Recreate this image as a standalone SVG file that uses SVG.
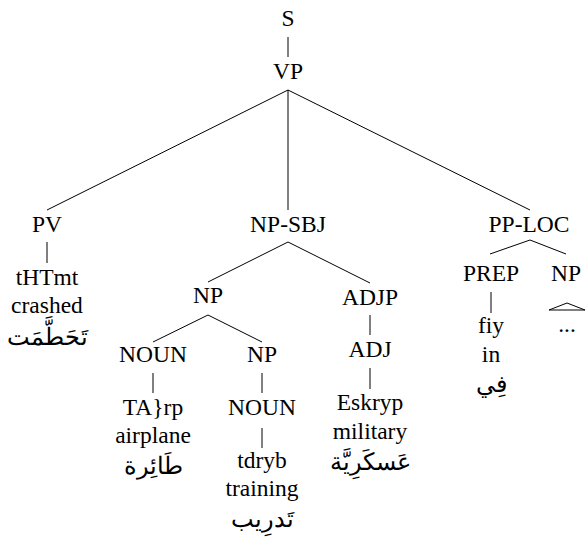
<svg xmlns="http://www.w3.org/2000/svg" width="586" height="544" viewBox="0 0 586 544">
<defs>
<style>
.t{font-size:23.5px;text-anchor:middle}
.a{font-size:24px;text-anchor:middle}
.e line,.e polyline{stroke:#000;stroke-width:1;fill:none}
</style>
</defs>
<rect width="586" height="544" fill="#fff"/>
<g id="connectors" class="e">
<line x1="288" y1="37" x2="288" y2="57"/>
<line x1="288" y1="90" x2="47" y2="210"/>
<line x1="288" y1="90" x2="288" y2="210"/>
<line x1="288" y1="90" x2="530" y2="210"/>
<line x1="47" y1="242" x2="47" y2="263"/>
<line x1="288" y1="242" x2="208" y2="282"/>
<line x1="288" y1="242" x2="370" y2="283"/>
<line x1="208" y1="315" x2="153" y2="342"/>
<line x1="208" y1="315" x2="262" y2="342"/>
<line x1="153" y1="373" x2="153" y2="393"/>
<line x1="262" y1="373" x2="262" y2="393"/>
<line x1="262" y1="428" x2="262" y2="448"/>
<line x1="370" y1="315" x2="370" y2="335"/>
<line x1="370" y1="368" x2="370" y2="389"/>
<line x1="530" y1="240" x2="490" y2="254"/>
<line x1="530" y1="240" x2="566" y2="254"/>
<line x1="491" y1="292" x2="491" y2="313"/>
<polyline points="549,310 567,303 585,310 549,310"/>
</g>
<g id="S"><text class="t" font-family="Liberation Serif, serif" x="288" y="26">S</text></g>
<g id="VP"><text class="t" font-family="Liberation Serif, serif" x="288" y="79">VP</text></g>
<g id="PV"><text class="t" font-family="Liberation Serif, serif" x="47" y="232">PV</text></g>
<g id="PV-word"><text class="t" font-family="Liberation Serif, serif" x="47" y="285">tHTmt</text><text class="t" font-family="Liberation Serif, serif" x="47" y="313">crashed</text><text class="a" font-family="Liberation Serif, serif" x="47" y="345">تَحَطَّمَت</text></g>
<g id="NP-SBJ"><text class="t" font-family="Liberation Serif, serif" x="288" y="232">NP-SBJ</text></g>
<g id="NP1"><text class="t" font-family="Liberation Serif, serif" x="208" y="303">NP</text></g>
<g id="NOUN1"><text class="t" font-family="Liberation Serif, serif" x="153" y="362">NOUN</text></g>
<g id="NOUN1-word"><text class="t" font-family="Liberation Serif, serif" x="153" y="415">TA}rp</text><text class="t" font-family="Liberation Serif, serif" x="153" y="443">airplane</text><text class="a" font-family="Liberation Serif, serif" x="153" y="474">طَائِرة</text></g>
<g id="NP2"><text class="t" font-family="Liberation Serif, serif" x="262" y="362">NP</text></g>
<g id="NOUN2"><text class="t" font-family="Liberation Serif, serif" x="262" y="415">NOUN</text></g>
<g id="NOUN2-word"><text class="t" font-family="Liberation Serif, serif" x="262" y="468">tdryb</text><text class="t" font-family="Liberation Serif, serif" x="262" y="496">training</text><text class="a" font-family="Liberation Serif, serif" x="262" y="527">تَدرِيب</text></g>
<g id="ADJP"><text class="t" font-family="Liberation Serif, serif" x="370" y="305">ADJP</text></g>
<g id="ADJ"><text class="t" font-family="Liberation Serif, serif" x="370" y="357">ADJ</text></g>
<g id="ADJ-word"><text class="t" font-family="Liberation Serif, serif" x="370" y="410">Eskryp</text><text class="t" font-family="Liberation Serif, serif" x="370" y="439">military</text><text class="a" font-family="Liberation Serif, serif" x="370" y="470">عَسكَرِيَّة</text></g>
<g id="PP-LOC"><text class="t" font-family="Liberation Serif, serif" x="529" y="232">PP-LOC</text></g>
<g id="PREP"><text class="t" font-family="Liberation Serif, serif" x="491" y="281">PREP</text></g>
<g id="PREP-word"><text class="t" font-family="Liberation Serif, serif" x="491" y="333">fiy</text><text class="t" font-family="Liberation Serif, serif" x="491" y="362">in</text><text class="a" font-family="Liberation Serif, serif" x="491" y="392">فِي</text></g>
<g id="NP3"><text class="t" font-family="Liberation Serif, serif" x="566" y="281">NP</text><text class="t" font-family="Liberation Serif, serif" x="567" y="332">...</text></g>
</svg>
